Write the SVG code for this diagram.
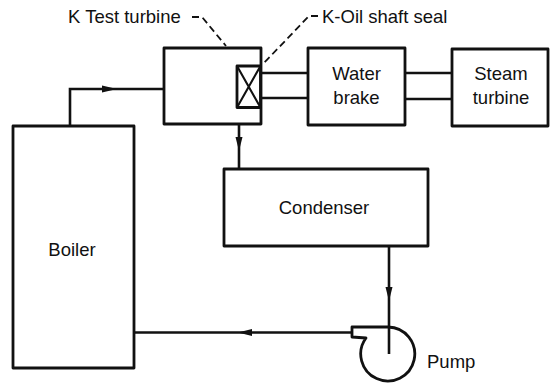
<svg xmlns="http://www.w3.org/2000/svg" width="555" height="385" viewBox="0 0 555 385">
<style>
.box{fill:none;stroke:#111;stroke-width:2.8;stroke-linejoin:round}
.ln{fill:none;stroke:#111;stroke-width:2.6}
.thin{fill:none;stroke:#111;stroke-width:2.1}
.dash{fill:none;stroke:#111;stroke-width:1.8;stroke-dasharray:7 4}
.ah{fill:#111;stroke:none}
text{font-family:"Liberation Sans",Arial,sans-serif;font-size:18.5px;fill:#111}
.c{text-anchor:middle}
</style>
<rect width="555" height="385" fill="#fff"/>
<g id="test-turbine">
<rect class="box" x="164" y="48" width="97" height="76"/>
</g>
<g id="oil-shaft-seal">
<rect class="box" x="237" y="66" width="23.5" height="41.5"/>
<path class="thin" d="M237,66 L260.5,107.5 M260.5,66 L237,107.5"/>
</g>
<g id="water-brake">
<rect class="box" x="308" y="48" width="97" height="77"/>
<text class="c" x="356.5" y="80">Water</text>
<text class="c" x="356.5" y="104">brake</text>
</g>
<g id="steam-turbine">
<rect class="box" x="452" y="49" width="96" height="77"/>
<text class="c" x="501" y="80">Steam</text>
<text class="c" x="501" y="104">turbine</text>
</g>
<g id="condenser">
<rect class="box" x="224" y="169" width="204" height="77"/>
<text class="c" x="324" y="214">Condenser</text>
</g>
<g id="boiler">
<rect class="box" x="13" y="126" width="121" height="242"/>
<text class="c" x="72" y="256">Boiler</text>
</g>
<g id="pump">
<path class="box" d="M388,327 L352,327 L352,337 L366,338 A27,27 0 1 0 388,327 Z"/>
<text x="427" y="368">Pump</text>
</g>
<g id="labels">
<text x="68" y="23">K Test turbine</text>
<path class="dash" d="M192,17 L202,17 L226,46"/>
<text x="322" y="23">K-Oil shaft seal</text>
<path class="dash" d="M318,16 L309,16 L262,65"/>
</g>
<g id="connectors">
<path class="ln" d="M261,73 L308,73 M261,98 L308,98"/>
<path class="ln" d="M405,73 L452,73 M405,99 L452,99"/>
<path class="ln" d="M70,126 L70,89 L164,89"/>
<polygon class="ah" points="102,85.5 117,89 102,92.5"/>
<path class="ln" d="M239,124 L239,169"/>
<polygon class="ah" points="235.5,137 239,151 242.5,137"/>
<path class="ln" d="M389,246 L389,354"/>
<polygon class="ah" points="385.5,287 389,301 392.5,287"/>
<path class="ln" d="M352,332.5 L134,332.5"/>
<polygon class="ah" points="252,329 238,332.5 252,336"/>
</g>
</svg>
